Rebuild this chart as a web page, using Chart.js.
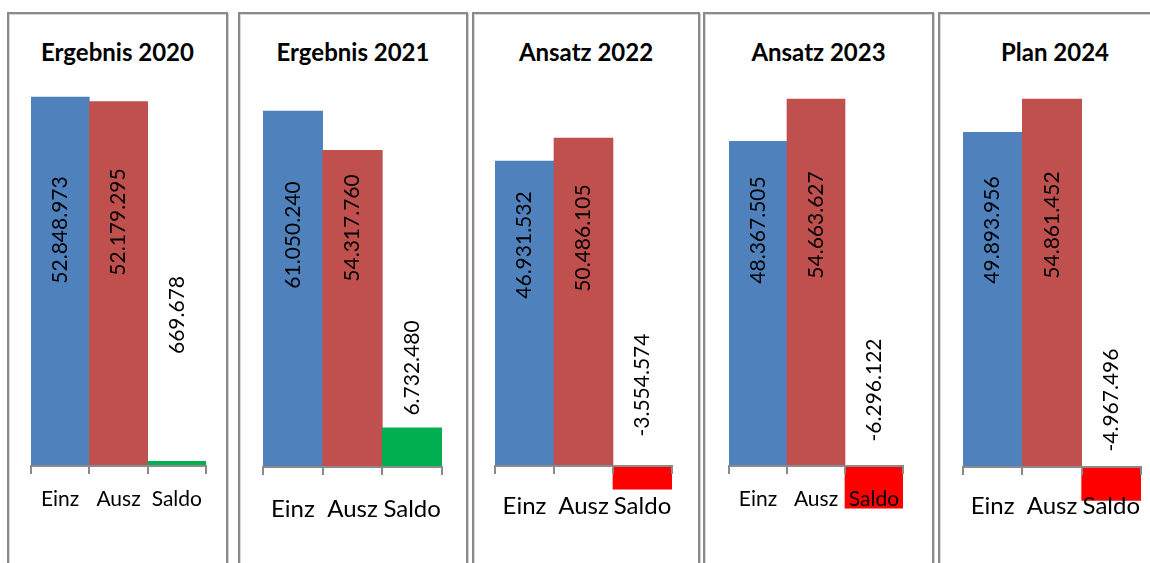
<!DOCTYPE html>
<html>
<head>
<meta charset="utf-8">
<script src="https://cdn.jsdelivr.net/npm/chart.js@4"></script>
<style>
  html, body { margin: 0; padding: 0; background: #fff; }
  body { width: 1150px; height: 563px; position: relative; overflow: hidden; font-family: Lato, sans-serif; }
  .box { position: absolute; top: 12px; height: 620px; border: 2px solid #8a8a8a; box-shadow: 1px 1px 0 #d0d0d0, inset 1px 1px 0 #d8d8d8; box-sizing: border-box; }
  .title { position: absolute; top: 37px; font-weight: bold; font-size: 24px; text-align: center; color: #000; }
  .wrap { position: absolute; top: 0; height: 563px; }
</style>
</head>
<body>
<script>
const panelTitles = ['Ergebnis 2020', 'Ergebnis 2021', 'Ansatz 2022', 'Ansatz 2023', 'Plan 2024'];
const categories = ['Einz', 'Ausz', 'Saldo'];
const einz = [52848973, 61050240, 46931532, 48367505, 49893956];
const ausz = [52179295, 54317760, 50486105, 54663627, 54861452];
const saldo = [669678, 6732480, -3554574, -6296122, -4967496];
// value axis limits (axis is hidden, like in the original)
const axisMax = [60e6, 70e6, 60e6, 60e6, 60e6];
const axisMin = [0, 0, -10e6, -10e6, -10e6];

// page layout of each panel
const boxes = [[7, 228], [238, 468], [472, 700], [703, 934], [938, 1172]];
const plotX = [[31, 206], [263, 442], [495, 672], [729, 903], [963, 1141]];
const plotY = [[47.1, 466], [58.8, 467], [76.2, 531], [63.2, 533.1], [64.5, 534.1]];
const tickSize = [21, 24, 24, 21, 24];
const tickPad = [14, 21, 19, 14, 18];
// how far above the axis the value labels sit
const labelLift = [
  [236, 244, 151],
  [232, 239, 99],
  [221, 228, 81],
  [236, 241, 76],
  [237, 242, 67]
];

const fmt = v => (v < 0 ? '-' : '') + Math.abs(v).toString().replace(/\B(?=(\d{3})+(?!\d))/g, '.');

const valueLabels = {
  id: 'valueLabels',
  afterDatasetsDraw(chart) {
    const ctx = chart.ctx;
    const lift = chart.options.plugins.valueLabels.lift;
    const zero = chart.scales.y.getPixelForValue(0);
    const meta = chart.getDatasetMeta(0);
    ctx.save();
    ctx.font = '21px Lato';
    ctx.fillStyle = '#000';
    ctx.textAlign = 'center';
    ctx.textBaseline = 'middle';
    meta.data.forEach((bar, i) => {
      ctx.save();
      ctx.translate(bar.x, zero - lift[i]);
      ctx.rotate(-Math.PI / 2);
      ctx.fillText(fmt(chart.data.datasets[0].data[i]), 0, 0);
      ctx.restore();
    });
    ctx.restore();
  }
};

panelTitles.forEach((t, p) => {
  const box = document.createElement('div');
  box.className = 'box';
  box.style.left = boxes[p][0] + 'px';
  box.style.width = (boxes[p][1] - boxes[p][0]) + 'px';
  document.body.appendChild(box);

  const title = document.createElement('div');
  title.className = 'title';
  title.style.left = boxes[p][0] + 'px';
  title.style.width = (boxes[p][1] - boxes[p][0]) + 'px';
  title.textContent = t;
  document.body.appendChild(title);

  const wrap = document.createElement('div');
  wrap.className = 'wrap';
  wrap.style.left = boxes[p][0] + 'px';
  wrap.style.width = (boxes[p][1] - boxes[p][0]) + 'px';
  const cv = document.createElement('canvas');
  wrap.appendChild(cv);
  document.body.appendChild(wrap);

  const s = saldo[p];
  new Chart(cv, {
    type: 'bar',
    data: {
      labels: categories,
      datasets: [{
        data: [einz[p], ausz[p], s],
        backgroundColor: ['#4F81BD', '#C0504D', s < 0 ? '#FF0000' : '#00B050'],
        borderWidth: 0,
        barPercentage: 1,
        categoryPercentage: 1
      }]
    },
    options: {
      responsive: true,
      maintainAspectRatio: false,
      animation: false,
      layout: {
        padding: {
          left: plotX[p][0] - boxes[p][0],
          right: boxes[p][1] - plotX[p][1],
          top: plotY[p][0],
          bottom: 563 - plotY[p][1]
        }
      },
      scales: {
        x: {
          position: { y: 0 },
          grid: { display: true, drawOnChartArea: false, drawTicks: true, tickLength: 7, color: '#8a8a8a', lineWidth: 2, offset: true, z: 1 },
          border: { display: true, color: '#8a8a8a', width: 2, z: 1 },
          ticks: { color: '#000', font: { family: 'Lato', size: tickSize[p] }, padding: tickPad[p], maxRotation: 0, autoSkip: false, z: 1 }
        },
        y: {
          display: false,
          min: axisMin[p],
          max: axisMax[p]
        }
      },
      plugins: {
        legend: { display: false },
        tooltip: { enabled: false },
        valueLabels: { lift: labelLift[p] }
      }
    },
    plugins: [valueLabels]
  });
});
</script>
</body>
</html>
